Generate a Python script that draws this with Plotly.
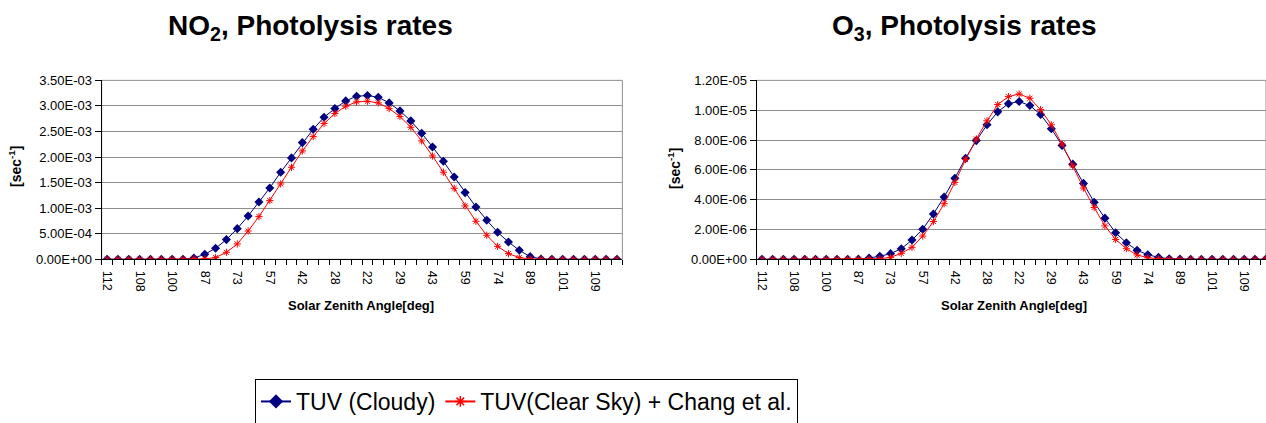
import plotly.graph_objects as go

# Solar zenith angle categories (half-hourly), labels shown every 3rd
sza = [112, 111, 110, 108, 106, 103, 100, 96, 92, 87, 82, 78, 73, 68, 62, 57,
       52, 47, 42, 37, 32, 28, 25, 23, 22, 23, 26, 29, 33, 38, 43, 48,
       54, 59, 64, 69, 74, 79, 84, 89, 93, 97, 101, 104, 107, 109, 111, 112]

# NO2 photolysis rates, units of 1e-3 s^-1
no2_cloudy = [0, 0, 0, 0, 0, 0, 0, 0, 0.025, 0.098, 0.215, 0.385, 0.600, 0.848, 1.122, 1.396,
              1.703, 1.983, 2.283, 2.544, 2.779, 2.948, 3.098, 3.190, 3.203, 3.170, 3.059, 2.903,
              2.707, 2.466, 2.198, 1.918, 1.611, 1.305, 1.024, 0.763, 0.528, 0.339, 0.176, 0.052,
              0.007, 0, 0, 0, 0, 0, 0, 0]
no2_clear = [0, 0, 0, 0, 0, 0, 0, 0, 0.012, 0.008, 0.033, 0.137, 0.300, 0.554, 0.835, 1.148,
             1.474, 1.800, 2.120, 2.400, 2.655, 2.851, 2.994, 3.079, 3.092, 3.059, 2.948, 2.792,
             2.583, 2.316, 2.022, 1.703, 1.389, 1.044, 0.744, 0.470, 0.254, 0.111, 0.033, 0.007,
             0, 0, 0, 0, 0, 0, 0, 0]

# O3 photolysis rates, units of 1e-6 s^-1
o3_cloudy = [0, 0, 0, 0, 0, 0, 0, 0, 0, 0.01, 0.09, 0.20, 0.38, 0.71, 1.29, 2.02,
             3.04, 4.18, 5.44, 6.78, 7.96, 9.02, 9.89, 10.44, 10.58, 10.31, 9.71, 8.76,
             7.64, 6.38, 5.09, 3.82, 2.76, 1.78, 1.11, 0.60, 0.31, 0.13, 0.04, 0.01,
             0, 0, 0, 0, 0, 0, 0, 0]
o3_clear = [0, 0, 0, 0, 0, 0, 0, 0, 0, 0, 0.02, 0.04, 0.13, 0.40, 0.80, 1.56,
            2.53, 3.73, 5.16, 6.69, 8.07, 9.29, 10.38, 10.91, 11.09, 10.80, 10.04, 9.02,
            7.73, 6.27, 4.78, 3.47, 2.24, 1.33, 0.71, 0.29, 0.11, 0.04, 0.01, 0,
            0, 0, 0, 0, 0, 0, 0, 0]

no2_ticks = [0, 0.5, 1.0, 1.5, 2.0, 2.5, 3.0, 3.5]          # x 1e-3
o3_ticks = [0, 2, 4, 6, 8, 10, 12]                           # x 1e-6
no2_ticktext = [f"{v * 1e-3:.2E}" for v in no2_ticks]
o3_ticktext = [f"{v * 1e-6:.2E}" for v in o3_ticks]

series_names = ["TUV (Cloudy)", "TUV(Clear Sky) + Chang et al."]

FONT = "Liberation Sans, Arial, sans-serif"
NAVY = "#000080"
RED = "#FF0000"
GRID = "#8f8f8f"

idx = list(range(len(sza)))
lab_idx = idx[::3]
lab_txt = [str(s) for s in sza[::3]]

fig = go.Figure()

def add_pair(xa, ya, cloudy, clear):
    fig.add_trace(go.Scatter(
        x=idx, y=cloudy, xaxis=xa, yaxis=ya, mode="lines+markers",
        name=series_names[0], showlegend=False, legendgroup="cloudy",
        line=dict(color=NAVY, width=1),
        marker=dict(symbol="diamond", size=7, color=NAVY)))
    fig.add_trace(go.Scatter(
        x=idx, y=clear, xaxis=xa, yaxis=ya, mode="lines+markers",
        name=series_names[1], showlegend=False, legendgroup="clear",
        line=dict(color=RED, width=1),
        marker=dict(symbol="asterisk-open", size=6, color=RED,
                    line=dict(color=RED, width=1))))

add_pair("x", "y", no2_cloudy, no2_clear)
add_pair("x2", "y2", o3_cloudy, o3_clear)

# legend entries (Excel-style legend keys: thicker line, larger marker)
fig.add_trace(go.Scatter(x=[None], y=[None], mode="lines+markers", name=series_names[0],
                         legendgroup="cloudy", legendrank=1,
                         line=dict(color=NAVY, width=2),
                         marker=dict(symbol="diamond", size=11, color=NAVY)))
fig.add_trace(go.Scatter(x=[None], y=[None], mode="lines+markers", name=series_names[1],
                         legendgroup="clear", legendrank=2,
                         line=dict(color=RED, width=2),
                         marker=dict(symbol="asterisk-open", size=9, color=RED,
                                     line=dict(color=RED, width=1.5))))

def xaxis_cfg(domain, rng):
    return dict(
        domain=domain, range=rng, tickmode="array", tickvals=lab_idx, ticktext=lab_txt,
        tickangle=90, ticks="outside", ticklen=8, tickcolor="rgba(0,0,0,0)",
        showgrid=False, zeroline=False,
        showline=True, linecolor="black", linewidth=1,
        tickfont=dict(family=FONT, size=12.5, color="black"),
        minor=dict(tickmode="linear", tick0=-0.5, dtick=1, ticks="outside", ticklen=5,
                   tickcolor="black", tickwidth=1, showgrid=False),
        fixedrange=True)

def yaxis_cfg(domain, rng, tv, tt, anchor):
    return dict(
        domain=domain, range=rng, tickmode="array", tickvals=tv, ticktext=tt,
        ticks="outside", ticklen=6, tickcolor="black", tickwidth=1,
        showgrid=True, gridcolor=GRID, gridwidth=1, zeroline=False,
        showline=True, linecolor="black", linewidth=1, anchor=anchor,
        tickfont=dict(family=FONT, size=13, color="black"), fixedrange=True)

YDOM = [0.387, 0.810]
fig.update_layout(
    width=1266, height=423,
    margin=dict(l=0, r=0, t=0, b=0, autoexpand=False),
    paper_bgcolor="white", plot_bgcolor="white",
    font=dict(family=FONT, color="black"),
    xaxis=xaxis_cfg([0.0803, 0.4916], [-0.5, 47.5]),
    yaxis=yaxis_cfg(YDOM, [0, 3.5], no2_ticks, no2_ticktext, "x"),
    xaxis2=xaxis_cfg([0.5976, 1.0], [-0.5, 47.03]),
    yaxis2=yaxis_cfg(YDOM, [0, 12], o3_ticks, o3_ticktext, "x2"),
    showlegend=True,
    legend=dict(orientation="h", x=255 / 1266, xanchor="left", y=(423 - 379) / 423, yanchor="top",
                bordercolor="black", borderwidth=1, bgcolor="white",
                font=dict(family=FONT, size=23, color="black"),
                traceorder="normal", itemclick=False, itemdoubleclick=False),
)
fig.layout.xaxis2.anchor = "y2"
fig.layout.xaxis.anchor = "y"

# gray plot-area borders (top and right)
for xr, yr in (("x domain", "y domain"), ("x2 domain", "y2 domain")):
    fig.add_shape(type="rect", xref=xr, yref=yr, x0=0, x1=1, y0=0, y1=1,
                  line=dict(color=GRID, width=1), layer="below")

def px_x(p):
    return p / 1266

def px_y(p):
    return (423 - p) / 423

ann = [
    dict(text="<b>NO<sub>2</sub>, Photolysis rates</b>", x=px_x(310), y=px_y(28), size=28, angle=0),
    dict(text="<b>O<sub>3</sub>, Photolysis rates</b>", x=px_x(964), y=px_y(28), size=28, angle=0),
    dict(text="<b>[sec<sup>-1</sup>]</b>", x=px_x(15), y=px_y(166), size=14, angle=-90),
    dict(text="<b>[sec<sup>-1</sup>]</b>", x=px_x(674), y=px_y(169), size=14, angle=-90),
    dict(text="<b>Solar Zenith Angle[deg]</b>", x=px_x(361), y=px_y(305), size=13, angle=0),
    dict(text="<b>Solar Zenith Angle[deg]</b>", x=px_x(1014), y=px_y(305), size=13, angle=0),
]
for a in ann:
    fig.add_annotation(text=a["text"], x=a["x"], y=a["y"], xref="paper", yref="paper",
                       xanchor="center", yanchor="middle", showarrow=False, textangle=a["angle"],
                       font=dict(family=FONT, size=a["size"], color="black"))

fig.write_html("out.html")
